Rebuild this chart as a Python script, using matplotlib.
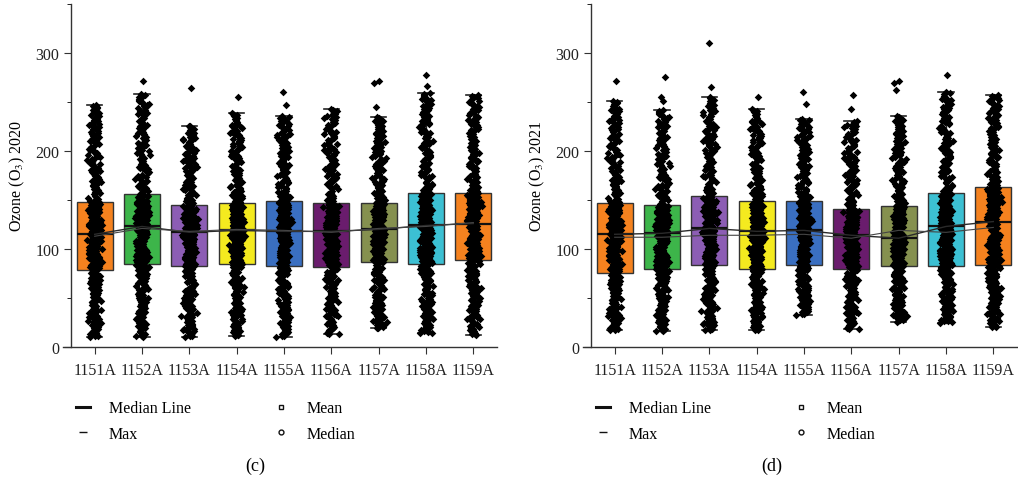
import numpy as np
import matplotlib
matplotlib.use("Agg")
import matplotlib.pyplot as plt
from matplotlib.lines import Line2D

plt.rcParams["font.family"] = ["Liberation Serif", "DejaVu Serif"]
plt.rcParams["mathtext.fontset"] = "stix"

stations = ["1151A", "1152A", "1153A", "1154A", "1155A",
            "1156A", "1157A", "1158A", "1159A"]
box_colors = ["#F5821F", "#3DB54A", "#8C5DB4", "#F4EA1F", "#3A6FC1",
              "#6A1C6D", "#85904F", "#3CC0D3", "#F5821F"]

# panel (c) – ozone 2020, box statistics
lo_2020 = [10, 10, 10, 11, 10, 13, 19, 14, 12]
q1_2020 = [79, 85, 83, 85, 83, 82, 87, 85, 89]
med_2020 = [115, 123, 117, 119, 118, 118, 120, 124, 126]
q3_2020 = [148, 156, 145, 147, 149, 147, 147, 157, 157]
hi_2020 = [247, 258, 226, 239, 236, 243, 235, 259, 257]
mean_2020 = [113, 121, 118, 120, 119, 117, 121, 123, 127]
out_2020 = [[], [271], [264], [255], [260, 247], [], [271, 269, 245],
            [278, 266], []]

# panel (d) – ozone 2021
lo_2021 = [17, 16, 17, 17, 33, 18, 26, 25, 20]
q1_2021 = [76, 80, 84, 80, 84, 80, 83, 83, 84]
med_2021 = [115, 116, 121, 118, 119, 114, 111, 123, 128]
q3_2021 = [147, 145, 154, 149, 149, 141, 144, 157, 163]
hi_2021 = [251, 242, 255, 243, 233, 231, 236, 260, 257]
mean_2021 = [112, 112, 114, 114, 115, 111, 119, 117, 122]
out_2021 = [[271], [276, 255, 251], [310, 265], [255], [260, 248],
            [257, 243], [271, 269, 262], [278], []]

N_DAYS = 365


def daily_values(lo, q1, med, q3, hi, outliers):
    # the individual dots cannot be read one by one, so the daily values are
    # rebuilt from the five-number summary read off the box
    p = np.linspace(0, 1, N_DAYS - len(outliers))
    vals = np.interp(p, [0, 0.25, 0.5, 0.75, 1.0], [lo, q1, med, q3, hi])
    return np.concatenate([vals, outliers])


def _hash(i, seed):
    h = np.sin(i * 12.9898 + seed * 78.233) * 43758.5453
    return h - np.floor(h)


def jitter(n, k):
    # horizontal spread of the strip plot (position only)
    i = np.arange(n, dtype=float)
    s = _hash(i, k) + _hash(i, k + 0.37) + _hash(i, k + 0.71)
    return (s - 1.5) * 0.13


def draw_panel(ax, lo, q1, med, q3, hi, mean, outs, year):
    pos = np.arange(1, len(stations) + 1)
    stats = []
    for k in range(len(stations)):
        stats.append(dict(whislo=lo[k], q1=q1[k], med=med[k], q3=q3[k],
                          whishi=hi[k], mean=mean[k], fliers=[]))
    bp = ax.bxp(stats, positions=pos, widths=0.76, patch_artist=True,
                showfliers=False, showmeans=False, capwidths=0.32,
                boxprops=dict(edgecolor="#333333", linewidth=1.0),
                whiskerprops=dict(color="#222222", linewidth=1.0),
                capprops=dict(color="#222222", linewidth=1.2),
                medianprops=dict(color="#111111", linewidth=1.6),
                zorder=1)
    for patch, c in zip(bp["boxes"], box_colors):
        patch.set_facecolor(c)

    for k in range(len(stations)):
        v = daily_values(lo[k], q1[k], med[k], q3[k], hi[k], outs[k])
        x = pos[k] + jitter(len(v), k + 1)
        ax.scatter(x, v, marker="D", s=15, color="black", linewidths=0,
                   zorder=3)

    ax.plot(pos, med, color="#2a2a2a", linewidth=1.0, zorder=4)
    ax.plot(pos, mean, color="#444444", linewidth=0.8, zorder=4)

    ax.set_xlim(0.33, 9.5)
    ax.set_ylim(0, 350)
    ax.spines["left"].set_position(("data", 0.5))
    ax.spines["top"].set_visible(False)
    ax.spines["right"].set_visible(False)
    for s in ("left", "bottom"):
        ax.spines[s].set_color("#333333")
        ax.spines[s].set_linewidth(1.0)
    ax.set_xticks(pos)
    ax.set_xticklabels(stations, fontsize=11.5)
    ax.set_yticks([0, 100, 200, 300])
    ax.set_yticks([50, 150, 250, 350], minor=True)
    ax.tick_params(axis="y", labelsize=11.5, length=5, color="#333333",
                   colors="#222222")
    ax.tick_params(axis="y", which="minor", length=3)
    ax.tick_params(axis="x", length=5, color="#333333", colors="#222222",
                   pad=6)
    ax.set_ylabel("Ozone (O$_3$) " + year, fontsize=11.5, labelpad=6)

    handles = [
        Line2D([], [], color="#111111", linewidth=2.2),
        Line2D([], [], color="#111111", linestyle="none", marker="_",
               markersize=6, markeredgewidth=1.0),
        Line2D([], [], color="#111111", linestyle="none", marker="s",
               markersize=3.5, markerfacecolor="white",
               markeredgewidth=1.0),
        Line2D([], [], color="#111111", linestyle="none", marker="o",
               markersize=3.5, markerfacecolor="white",
               markeredgewidth=1.0),
    ]
    labels = ["Median Line", "Max", "Mean", "Median"]
    ax.legend(handles, labels, ncol=2, loc="upper left",
              bbox_to_anchor=(0.03, -0.155), frameon=False, fontsize=11.5,
              handlelength=0.9, handletextpad=1.15, columnspacing=5.2,
              labelspacing=0.6, borderpad=0, borderaxespad=0)


fig = plt.figure(figsize=(10.18, 4.85), dpi=100)
W, H = 1018.0, 485.0
ax_c = fig.add_axes([63 / W, 1 - 348 / H, (497 - 63) / W, 343 / H])
ax_d = fig.add_axes([583 / W, 1 - 348 / H, (1017 - 583) / W, 343 / H])

draw_panel(ax_c, lo_2020, q1_2020, med_2020, q3_2020, hi_2020, mean_2020,
           out_2020, "2020")
draw_panel(ax_d, lo_2021, q1_2021, med_2021, q3_2021, hi_2021, mean_2021,
           out_2021, "2021")

fig.text(255 / W, 1 - 466 / H, "(c)", ha="center", va="center", fontsize=13)
fig.text(772 / W, 1 - 466 / H, "(d)", ha="center", va="center", fontsize=13)

fig.savefig("out.png", dpi=100)
